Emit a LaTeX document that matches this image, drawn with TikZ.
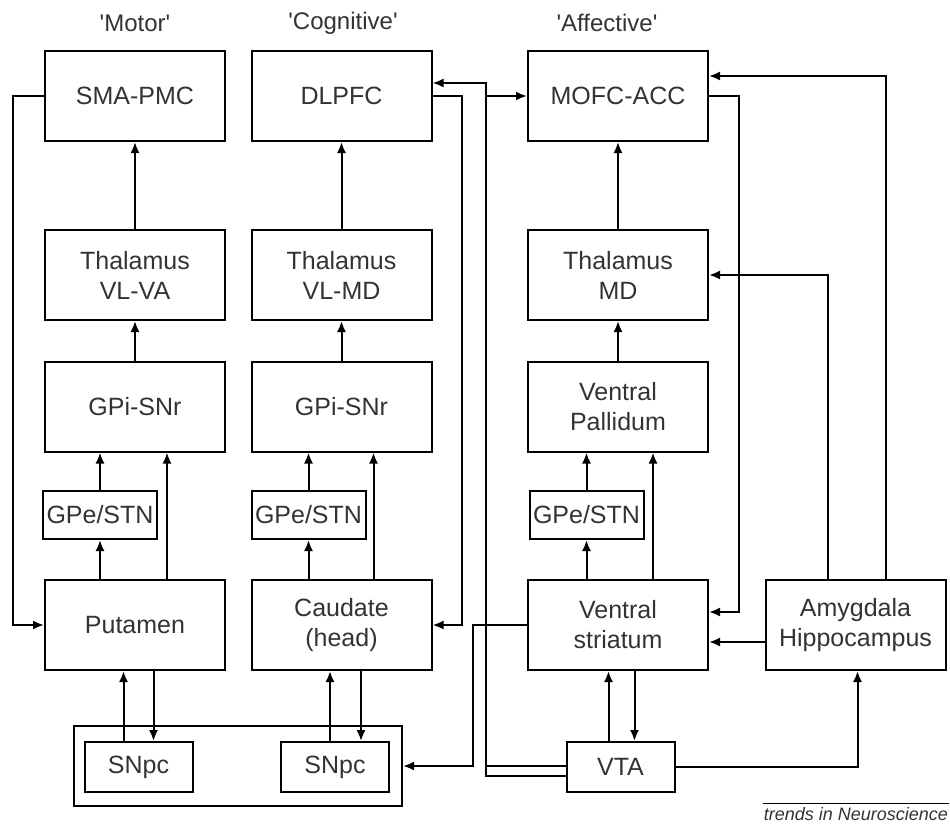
\documentclass[tikz,border=0pt]{standalone}
\usepackage{fontspec}
\setmainfont{Liberation Sans}
\usetikzlibrary{arrows.meta}

\tikzset{
  box/.style={draw, minimum width=180pt, minimum height=90pt, align=center,
    text=black!80, font=\fontsize{25}{30}\selectfont},
  sbox/.style={box, minimum width=108pt, minimum height=50pt},
  head/.style={text=black!80, font=\fontsize{24}{28}\selectfont},
}

\begin{document}
\begin{tikzpicture}[x=1pt, y=-1pt, line width=2pt, >={Latex[length=11pt,width=9pt]}]
\useasboundingbox (0,0) rectangle (950,827);

\node[head] (hmot) at (135,23) {\textquotesingle Motor\textquotesingle};
\node[head] (hcog) at (343,23) {\textquotesingle Cognitive\textquotesingle};
\node[head] (haff) at (607,23) {\textquotesingle Affective\textquotesingle};

% cortex
\node[box] (sma) at (135,96) {SMA-PMC};
\node[box] (dlpfc) at (341.5,96) {DLPFC};
\node[box] (mofc) at (618,96) {MOFC-ACC};

% thalamus
\node[box] (thva) at (135,275) {Thalamus\\VL-VA};
\node[box] (thvm) at (341.5,275) {Thalamus\\VL-MD};
\node[box] (thmd) at (618,275) {Thalamus\\MD};

% pallidum
\node[box] (gpi1) at (135,406.5) {GPi-SNr};
\node[box] (gpi2) at (341.5,406.5) {GPi-SNr};
\node[box] (vp) at (618,406.5) {Ventral\\Pallidum};

\node[sbox, minimum width=114pt, minimum height=48pt] (gpe1) at (100,515) {GPe/STN};
\node[sbox, minimum width=114pt, minimum height=48pt] (gpe2) at (308.5,515) {GPe/STN};
\node[sbox, minimum width=114pt, minimum height=48pt] (gpe3) at (586.5,515) {GPe/STN};

% striatum
\node[box] (put) at (135,625) {Putamen};
\node[box] (cau) at (341.5,625) {Caudate\\(head)};
\node[box] (vs) at (618,625) {Ventral\\striatum};
\node[box] (amy) at (855.5,625) {Amygdala\\Hippocampus};

% midbrain
\node[draw, minimum width=328pt, minimum height=80pt] (snbox) at (238,766) {};
\node[sbox] (snpc1) at (138.5,767) {SNpc};
\node[sbox] (snpc2) at (335,767) {SNpc};
\node[sbox] (vta) at (620.5,767) {VTA};

\node[anchor=south east, inner sep=0pt, text=black!80,
  font=\fontsize{18}{20}\selectfont\itshape] (logo) at (949,822) {trends in Neuroscience};
\draw[line width=1.2pt] ([yshift=3pt]logo.north west) -- ([yshift=3pt]logo.north east);

% thalamus -> cortex, pallidum -> thalamus
\draw[->] (thva) -- (sma);
\draw[->] (thvm) -- (dlpfc);
\draw[->] (thmd) -- (mofc);
\draw[->] (gpi1) -- (thva);
\draw[->] (gpi2) -- (thvm);
\draw[->] (vp) -- (thmd);

% indirect
\draw[->] (gpe1) -- (gpe1 |- gpi1.south);
\draw[->] (gpe2) -- (gpe2 |- gpi2.south);
\draw[->] (gpe3) -- (gpe3 |- vp.south);
\draw[->] (gpe1 |- put.north) -- (gpe1);
\draw[->] (gpe2 |- cau.north) -- (gpe2);
\draw[->] (gpe3 |- vs.north) -- (gpe3);

% direct
\draw[->] ([xshift=32pt]put.north) -- ([xshift=32pt]gpi1.south);
\draw[->] ([xshift=32pt]cau.north) -- ([xshift=32pt]gpi2.south);
\draw[->] ([xshift=35pt]vs.north) -- ([xshift=35pt]vp.south);

% cortex -> striatum
\draw[->] (sma.west) -- ++(-31,0) |- (put.west);
\draw[->] (dlpfc.east) -- ++(29,0) |- (cau.east);
\draw[->] (mofc.east) -- ++(30,0) |- ([yshift=13pt]vs.east);

% amygdala
\draw[->] ([yshift=-17pt]amy.west) -- ([yshift=-17pt]amy.west -| vs.east);
\draw[->] ([xshift=-28pt]amy.north) |- (thmd.east);
\draw[->] ([xshift=30pt]amy.north) |- ([yshift=20pt]mofc.east);

% striatum <-> SNpc
\draw[->] ([xshift=-15pt]snpc1.north) -- ([xshift=-15pt]snpc1.north |- put.south);
\draw[->] ([xshift=15pt]snpc1.north |- put.south) -- ([xshift=15pt]snpc1.north);
\draw[->] ([xshift=-5pt]snpc2.north) -- ([xshift=-5pt]snpc2.north |- cau.south);
\draw[->] ([xshift=26pt]snpc2.north |- cau.south) -- ([xshift=26pt]snpc2.north);

% VTA
\draw[->] ([xshift=-12pt]vta.north) -- ([xshift=-12pt]vta.north |- vs.south);
\draw[->] ([xshift=14pt]vta.north |- vs.south) -- ([xshift=14pt]vta.north);
\draw[->] (vta.east) -| ([xshift=2pt]amy.south);
\draw[->] ([yshift=1pt]vta.west) -- ++(-80,0) |- (mofc.west);
\draw[->] ([yshift=-9pt]vta.west) -- ++(-80,0) |- ([yshift=13pt]dlpfc.east);
\draw[->] (vs.west) -- ++(-54,0) |- (snbox.east);

\end{tikzpicture}
\end{document}
